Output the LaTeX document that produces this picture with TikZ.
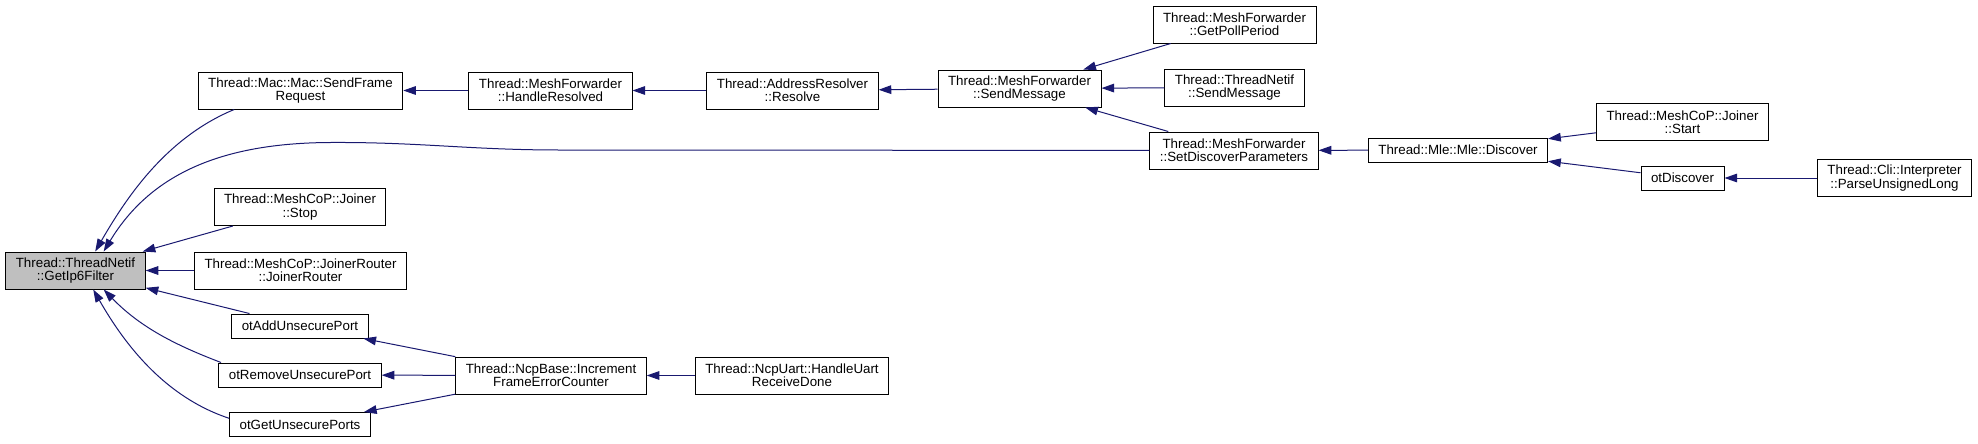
\documentclass[tikz,border=0pt]{standalone}
\usepackage{fontspec}
\setmainfont{Liberation Sans}
\usepackage{xcolor}
\usetikzlibrary{arrows.meta, positioning}
\definecolor{edgeblue}{HTML}{191970}

\begin{document}
\begin{tikzpicture}[
    x=0.75pt, y=-0.75pt,
    every node/.style={font=\fontsize{10pt}{10pt}\selectfont},
    fn/.style={draw=black, fill=white, line width=0.75pt, align=center, inner xsep=7.5pt, inner ysep=0pt, minimum height=18pt},
    twoline/.style={minimum height=27.75pt},
    current/.style={fill=gray!50},
    call/.style={draw=edgeblue, line width=0.75pt, -{Triangle[length=9.5pt, width=6.5pt]}}
]
\useasboundingbox (0,0) rectangle (1978,443);

% Functions
\node[fn, twoline, current] (getip6) at (75.5,270.5) {Thread::ThreadNetif\\::GetIp6Filter};
\node[fn, twoline] (sendframe) at (300.5,90.5) {Thread::Mac::Mac::SendFrame\\Request};
\node[fn, twoline] (joinerstop) at (300,207) {Thread::MeshCoP::Joiner\\::Stop};
\node[fn, twoline] (joinerrouter) at (300.5,270.5) {Thread::MeshCoP::JoinerRouter\\::JoinerRouter};
\node[fn] (addport) at (300,326) {otAddUnsecurePort};
\node[fn] (removeport) at (300,375) {otRemoveUnsecurePort};
\node[fn] (getports) at (300,424.5) {otGetUnsecurePorts};
\node[fn, twoline] (handleresolved) at (550.5,90.5) {Thread::MeshForwarder\\::HandleResolved};
\node[fn, twoline] (resolve) at (792.5,90.5) {Thread::AddressResolver\\::Resolve};
\node[fn, twoline] (mfsend) at (1019.5,88.5) {Thread::MeshForwarder\\::SendMessage};
\node[fn, twoline] (pollperiod) at (1234.5,24.5) {Thread::MeshForwarder\\::GetPollPeriod};
\node[fn, twoline] (tnsend) at (1234.5,87.5) {Thread::ThreadNetif\\::SendMessage};
\node[fn, twoline] (setdiscover) at (1234,150.5) {Thread::MeshForwarder\\::SetDiscoverParameters};
\node[fn] (mlediscover) at (1458,150) {Thread::Mle::Mle::Discover};
\node[fn, twoline] (joinerstart) at (1682.5,122) {Thread::MeshCoP::Joiner\\::Start};
\node[fn] (otdiscover) at (1682.5,178) {otDiscover};
\node[fn, twoline] (parselong) at (1894.5,178) {Thread::Cli::Interpreter\\::ParseUnsignedLong};
\node[fn, twoline] (incrcounter) at (551,375.5) {Thread::NcpBase::Increment\\FrameErrorCounter};
\node[fn, twoline] (uartdone) at (792,375.5) {Thread::NcpUart::HandleUart\\ReceiveDone};

% Calls into GetIp6Filter
\draw[call] (sendframe.196) .. controls (165,138) and (125,200) .. (getip6.44);
\draw[call] (setdiscover) -- (560,150) .. controls (470,150) and (420,142) .. (330,142.5)
    .. controls (220,143) and (150,175) .. (getip6.34);
\draw[call] (joinerstop) -- (getip6);
\draw[call] (joinerrouter) -- (getip6);
\draw[call] (addport) -- (getip6);
\draw[call] (removeport.171) .. controls (175,345) and (140,327) .. (getip6.-34);
\draw[call] (getports.175) .. controls (165,397) and (125,345) .. (getip6.-47);

% Upper chain
\draw[call] (handleresolved) -- (sendframe);
\draw[call] (resolve) -- (handleresolved);
\draw[call] (mfsend) -- (resolve);
\draw[call] (pollperiod) -- (mfsend);
\draw[call] (tnsend) -- (mfsend);
\draw[call] (setdiscover) -- (mfsend);
\draw[call] (mlediscover) -- (setdiscover);
\draw[call] (joinerstart) -- (mlediscover);
\draw[call] (otdiscover) -- (mlediscover);
\draw[call] (parselong) -- (otdiscover);

% Lower chain
\draw[call] (incrcounter) -- (addport);
\draw[call] (incrcounter) -- (removeport);
\draw[call] (incrcounter) -- (getports);
\draw[call] (uartdone) -- (incrcounter);

\end{tikzpicture}
\end{document}
